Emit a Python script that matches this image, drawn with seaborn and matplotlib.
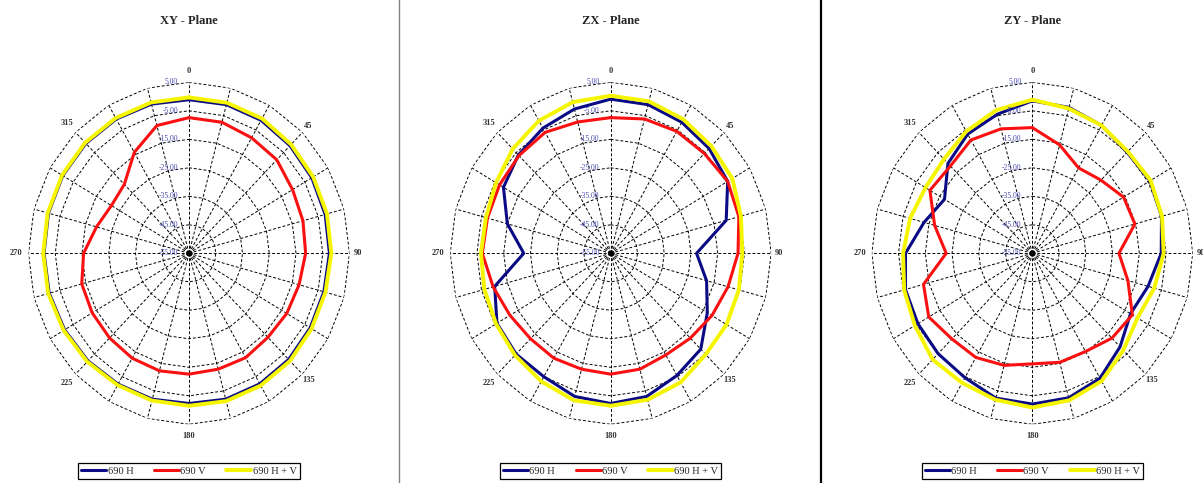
import numpy as np
import pandas as pd
import matplotlib
matplotlib.use('Agg')
from matplotlib import pyplot as plt
from matplotlib import transforms
import seaborn as sns

# angles of the measurement (degrees, clockwise from top)
angles = list(range(0, 360, 15))

# XY - Plane
xy_h = [-1.1, -1.0, -1.1, -1.6, -2.0, -2.3, -2.5, -2.8, -2.7, -2.3, -2.1, -2.0,
        -2.3, -2.0, -2.0, -1.6, -1.3, -0.9, -0.8, -0.6, -0.5, -0.5, -0.6, -0.8]
xy_v = [-7.4, -7.4, -8.2, -8.6, -10.3, -10.9, -11.4, -12.4, -12.8, -13.3, -12.7, -12.9,
        -12.6, -12.3, -12.5, -13.0, -13.2, -13.5, -15.6, -19.2, -21.5, -20.8, -14.1, -8.6]
xy_hv = [-0.3, -0.3, -0.4, -1.0, -1.4, -1.6, -1.8, -2.2, -2.1, -1.6, -1.4, -1.3,
         -1.5, -1.5, -1.6, -1.2, -0.9, -0.5, -0.5, -0.3, -0.2, -0.1, -0.2, -0.2]

# ZX - Plane
zx_h = [-0.9, -1.0, -1.9, -3.0, -4.5, -10.3, -22.9, -17.9, -13.3, -7.4, -5.5, -3.0,
        -2.3, -3.0, -5.0, -5.0, -5.9, -10.1, -22.5, -15.0, -8.7, -6.2, -4.3, -2.6]
zx_v = [-7.4, -6.2, -5.6, -5.5, -4.5, -5.4, -7.4, -9.6, -11.3, -12.9, -13.8, -12.9,
        -12.6, -12.9, -12.5, -12.6, -11.5, -9.5, -7.0, -7.3, -7.0, -6.5, -6.0, -7.3]
zx_hv = [0.3, 0.2, -0.7, -1.8, -2.5, -4.6, -5.8, -5.4, -5.0, -4.8, -2.7, -1.8,
         -1.5, -1.6, -3.1, -4.4, -5.5, -6.1, -6.5, -6.7, -5.5, -3.2, -1.3, -0.1]

# ZY - Plane
zy_h = [-1.5, -2.0, -3.2, -4.9, -4.2, -5.0, -6.8, -10.2, -12.6, -8.6, -4.4, -2.5,
        -2.1, -2.4, -4.6, -5.2, -5.6, -5.9, -7.6, -13.1, -17.1, -10.4, -6.7, -4.5]
zy_v = [-10.9, -15.6, -20.4, -18.7, -15.6, -15.3, -22.6, -18.0, -11.8, -12.9, -15.2, -15.4,
        -16.2, -14.3, -12.8, -12.5, -10.3, -12.9, -22.8, -17.2, -10.8, -11.7, -9.1, -9.8]
zy_hv = [-1.1, -2.4, -3.2, -4.5, -3.9, -4.8, -5.9, -7.8, -9.6, -6.9, -3.2, -1.6,
         -0.9, -1.8, -2.5, -2.3, -4.3, -5.4, -6.7, -7.7, -8.9, -8.3, -5.6, -3.0]

titles = ['XY - Plane', 'ZX - Plane', 'ZY - Plane']
series_names = ['690 H', '690 V', '690 H + V']
ring_values = [5, -5, -15, -25, -35, -45, -55]
ring_labels = ['5.00', '-5.00', '-15.00', '-25.00', '-35.00', '-45.00', '-55.00']
angle_ticks = [0, 45, 90, 135, 180, 225, 270, 315]

planes = [(xy_h, xy_v, xy_hv), (zx_h, zx_v, zx_hv), (zy_h, zy_v, zy_hv)]
colors = ['#0a0a84', '#fa1010', '#f5f500']
widths = [2.2, 2.2, 2.8]

sns.set_style('white')
plt.rcParams['font.family'] = ['Liberation Serif', 'DejaVu Serif']

W, H = 1203, 483
fig = plt.figure(figsize=(W / 100, H / 100), dpi=100)

centers = [189, 610.7, 1032.3]
cy = 253.3
rx, ry = 160.5, 171

theta_ring = np.deg2rad(np.arange(0, 361, 15))

for i, (h, v, hv) in enumerate(planes):
    cx = centers[i]
    ax = fig.add_axes([(cx - rx) / W, (H - cy - ry) / H, 2 * rx / W, 2 * ry / H],
                      projection='polar')
    ax.set_theta_zero_location('N')
    ax.set_theta_direction(-1)
    ax.set_ylim(-55, 5)
    ax.set_aspect('auto')
    ax.grid(False)
    ax.set_xticks([])
    ax.set_yticks([])
    ax.spines['polar'].set_visible(False)
    ax.patch.set_alpha(0)

    # polygon grid like a radar chart
    for rv in ring_values[:-1]:
        ax.plot(theta_ring, [rv] * len(theta_ring), color='black', lw=0.7,
                ls=(0, (3, 2)), zorder=1)
    for t in theta_ring[:-1]:
        ax.plot([t, t], [-55, 5], color='black', lw=0.7, ls=(0, (3, 2)), zorder=1)
    ax.plot([0], [-55], 'o', color='black', ms=3.5, zorder=2)

    # data
    for name, vals, col, lw in zip(series_names, (h, v, hv), colors, widths):
        df = pd.DataFrame({'theta': np.deg2rad(angles + [360]),
                           'db': vals + [vals[0]]})
        sns.lineplot(data=df, x='theta', y='db', sort=False, estimator=None,
                     color=col, linewidth=lw, label=name, ax=ax, zorder=3)
    ax.set_xlabel('')
    ax.set_ylabel('')

    # ring labels along 0 degree spoke
    off = transforms.offset_copy(ax.transData, fig=fig, x=-11, y=0, units='dots')
    for rv, lab in zip(ring_values, ring_labels):
        ax.text(0, rv, lab, transform=off, ha='right', va='center', fontsize=5.5,
                color='#4b4bb4', zorder=4)

    # angle labels
    for a in angle_ticks:
        if a in (0, 180):
            rr = 9.0
        elif a < 180:
            rr = 8.0
        else:
            rr = 9.5
        ax.text(np.deg2rad(a), rr, str(a), ha='center', va='center', fontsize=6,
                fontweight='bold', color='#333333')

    fig.text(cx / W, 1 - 21 / H, titles[i], ha='center', va='center', fontsize=9,
             fontweight='bold')

    ax.legend(loc='center', bbox_to_anchor=(cx / W, (H - 471) / H),
              bbox_transform=fig.transFigure, ncol=3, frameon=True, fancybox=False,
              edgecolor='black', fontsize=7.5, handlelength=2.4, handletextpad=0.1,
              columnspacing=2.0, borderpad=0.3, framealpha=1)
    ax.get_legend().get_frame().set_linewidth(0.9)

# separators between the panels
fig.add_artist(plt.Line2D([399 / W, 399 / W], [0, 1], transform=fig.transFigure,
                          color='#808080', lw=1))
fig.add_artist(plt.Line2D([821 / W, 821 / W], [0, 1], transform=fig.transFigure,
                          color='black', lw=1.6))

fig.savefig('out.png', dpi=100)
